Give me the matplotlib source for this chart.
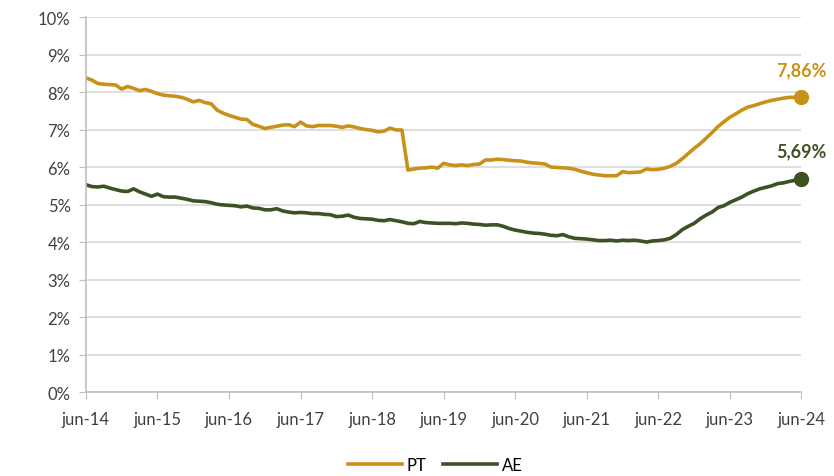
import matplotlib.pyplot as plt
import numpy as np

# monthly values, jun-14 .. jun-24 (%)
pt = [8.38, 8.32, 8.23, 8.21, 8.20, 8.19, 8.08, 8.15, 8.10, 8.04, 8.07, 8.02,
      7.96, 7.92, 7.90, 7.89, 7.86, 7.81, 7.74, 7.78, 7.72, 7.69, 7.52, 7.44,
      7.38, 7.33, 7.28, 7.27, 7.14, 7.09, 7.03, 7.06, 7.09, 7.12, 7.13, 7.08,
      7.20, 7.10, 7.08, 7.11, 7.11, 7.11, 7.09, 7.06, 7.10, 7.07, 7.03, 7.00,
      6.98, 6.94, 6.96, 7.04, 6.99, 6.99, 5.92, 5.95, 5.97, 5.98, 6.00, 5.97,
      6.10, 6.06, 6.04, 6.06, 6.04, 6.07, 6.08, 6.19, 6.19, 6.21, 6.20, 6.18,
      6.17, 6.16, 6.13, 6.11, 6.10, 6.08, 6.00, 5.99, 5.98, 5.97, 5.94, 5.89,
      5.85, 5.81, 5.79, 5.77, 5.77, 5.77, 5.88, 5.85, 5.86, 5.87, 5.95, 5.93,
      5.94, 5.97, 6.02, 6.10, 6.22, 6.36, 6.50, 6.62, 6.77, 6.92, 7.08, 7.21,
      7.33, 7.42, 7.52, 7.60, 7.64, 7.69, 7.74, 7.78, 7.81, 7.84, 7.86, 7.86,
      7.86]
ae = [5.53, 5.48, 5.47, 5.49, 5.44, 5.40, 5.36, 5.35, 5.42, 5.34, 5.28, 5.22,
      5.28, 5.21, 5.20, 5.20, 5.17, 5.14, 5.10, 5.09, 5.08, 5.05, 5.01, 4.99,
      4.98, 4.97, 4.94, 4.96, 4.91, 4.90, 4.86, 4.86, 4.89, 4.83, 4.80, 4.78,
      4.79, 4.78, 4.76, 4.76, 4.74, 4.73, 4.68, 4.69, 4.72, 4.66, 4.63, 4.62,
      4.61, 4.58, 4.57, 4.60, 4.57, 4.54, 4.50, 4.49, 4.55, 4.52, 4.51, 4.50,
      4.50, 4.50, 4.49, 4.51, 4.50, 4.48, 4.47, 4.45, 4.46, 4.46, 4.42, 4.36,
      4.32, 4.29, 4.26, 4.24, 4.23, 4.21, 4.18, 4.17, 4.20, 4.14, 4.10, 4.09,
      4.08, 4.06, 4.04, 4.04, 4.05, 4.03, 4.05, 4.04, 4.05, 4.03, 4.00, 4.03,
      4.04, 4.06, 4.10, 4.20, 4.33, 4.42, 4.50, 4.62, 4.72, 4.80, 4.92, 4.97,
      5.06, 5.13, 5.20, 5.29, 5.36, 5.42, 5.46, 5.50, 5.56, 5.58, 5.62, 5.65,
      5.69]
years = ['jun-14', 'jun-15', 'jun-16', 'jun-17', 'jun-18', 'jun-19',
         'jun-20', 'jun-21', 'jun-22', 'jun-23', 'jun-24']

c_pt = '#C8921A'
c_ae = '#3D5223'
grey = '#BFBFBF'

plt.rcParams['font.family'] = ['Lato', 'DejaVu Sans']

x = np.arange(len(pt))

fig = plt.figure(figsize=(8.34, 4.77), dpi=100)
ax = fig.add_axes([0.103, 0.176, 0.858, 0.786])

ax.plot(x, pt, color=c_pt, lw=2.6, label='PT', solid_joinstyle='round')
ax.plot(x, ae, color=c_ae, lw=2.6, label='AE', solid_joinstyle='round')

# end points with labels
for s, c in [(pt, c_pt), (ae, c_ae)]:
    ax.plot(x[-1], s[-1], 'o', color=c, ms=10, clip_on=False, zorder=5)
    ax.annotate(f'{s[-1]:.2f}%'.replace('.', ','), (x[-1], s[-1]),
                xytext=(0, 14), textcoords='offset points', ha='center',
                va='bottom', color=c, fontsize=13, fontweight='bold')

ax.set_xlim(0, len(pt) - 1)
ax.set_ylim(0, 10)
ax.set_xticks(np.arange(0, len(pt), 12))
ax.set_xticklabels(years)
ax.set_yticks(np.arange(0, 11))
ax.set_yticklabels([f'{v}%' for v in range(11)])
ax.tick_params(labelsize=12, colors='#404040', length=5, color=grey, pad=6)
ax.tick_params(axis='x', pad=9)

ax.grid(axis='y', color='#D9D9D9', lw=1.2)
ax.set_axisbelow(True)
for sp in ['top', 'right']:
    ax.spines[sp].set_visible(False)
for sp in ['left', 'bottom']:
    ax.spines[sp].set_color(grey)
    ax.spines[sp].set_linewidth(1.2)

fig.legend(loc='lower center', bbox_to_anchor=(0.522, -0.025), ncol=2,
           frameon=False, fontsize=12, handlelength=3.2, columnspacing=1.0,
           handletextpad=0.3)

fig.savefig('out.png', dpi=100)
